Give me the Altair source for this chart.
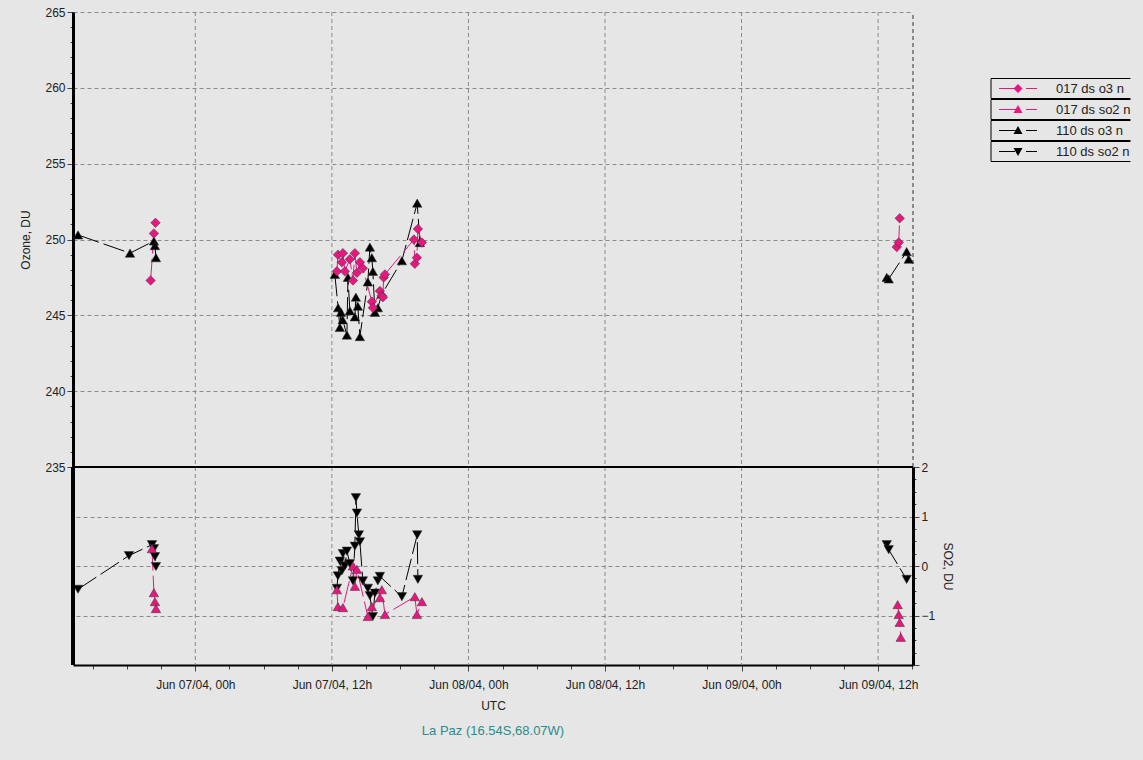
import altair as alt
import pandas as pd

# ---- data (hours since 2004-06-07 00:00 UTC, value) ----
o3_017_h = [-3.93, -3.64, -3.50,
            12.44, 12.53, 12.88, 12.97, 13.14, 13.58, 13.85, 14.02, 14.20, 14.46, 14.72,
            15.51, 15.60, 16.22, 16.39, 16.48, 16.55, 16.66, 19.21, 19.29, 19.47, 19.56, 19.91,
            61.64, 61.81, 61.90]
o3_017_v = [247.3, 250.4, 251.1,
            247.9, 249.0, 248.5, 249.1, 247.9, 248.7, 247.3, 249.1, 247.8, 248.5, 248.1,
            245.9, 245.5, 246.6, 246.3, 246.2, 247.5, 247.7, 250.0, 248.4, 248.8, 250.7, 249.8,
            249.5, 249.8, 251.4]

o3_110_h = [-10.31, -5.74, -3.64, -3.55, -3.46,
            12.26, 12.55, 12.70, 12.80, 12.95, 13.32, 13.41, 13.58, 14.02, 14.11, 14.28, 14.46,
            15.16, 15.34, 15.51, 15.60, 15.78, 16.04, 16.39, 18.15, 19.50, 19.73,
            60.76, 60.93, 62.51, 62.69]
o3_110_v = [250.3, 249.1, 249.9, 249.6, 248.8,
            247.7, 245.5, 244.2, 245.2, 244.7, 243.7, 247.5, 245.3, 244.9, 246.2, 245.6, 243.6,
            247.2, 249.5, 248.8, 247.9, 245.2, 245.5, 246.4, 248.6, 252.4, 249.8,
            247.5, 247.4, 249.2, 248.7]

so2_017_h = [-3.81, -3.64, -3.55, -3.46,
             12.44, 12.53, 12.97, 13.85, 14.02, 14.20, 15.16, 15.51, 16.22, 16.39, 16.66,
             19.29, 19.47, 19.91,
             61.72, 61.81, 61.90, 61.99]
so2_017_v = [0.35, -0.54, -0.72, -0.86,
             -0.48, -0.82, -0.84, 0.0, -0.41, -0.07, -1.02, -0.82, -0.64, -0.48, -0.98,
             -0.62, -0.98, -0.72,
             -0.78, -0.98, -1.14, -1.44]

so2_110_h = [-10.31, -5.83, -3.81, -3.64, -3.55, -3.46,
             12.44, 12.53, 12.70, 12.88, 12.97, 13.14, 13.32, 13.58, 13.85, 14.02, 14.11, 14.20,
             14.37, 14.46, 14.72, 15.16, 15.34, 15.60, 15.78, 16.04, 16.22, 18.15, 19.50, 19.56,
             60.76, 60.93, 62.51]
so2_110_v = [-0.47, 0.21, 0.43, 0.35, 0.19, -0.01,
             -0.45, -0.2, 0.1, -0.1, 0.25, 0.0, 0.3, 0.05, -0.3, 0.4, 1.38, 1.07,
             0.63, 0.49, -0.3, -0.45, -0.6, -1.02, -0.55, -0.3, -0.21, -0.62, 0.63, -0.27,
             0.43, 0.33, -0.27]

series_names = ["017 ds o3  n", "017 ds so2 n", "110 ds o3  n", "110 ds so2 n"]
PINK = "#e8177f"
series_colors = [PINK, PINK, "#000000", "#000000"]

# vertical grid (major x ticks, every 12 h)
grid_times = ["2004-06-07T00:00:00Z", "2004-06-07T12:00:00Z", "2004-06-08T00:00:00Z",
              "2004-06-08T12:00:00Z", "2004-06-09T00:00:00Z", "2004-06-09T12:00:00Z"]

BASE = pd.Timestamp("2004-06-07 00:00")


def frame(name, hours, values):
    rows = []
    seg = 0
    prev = None
    for h, v in sorted(zip(hours, values), key=lambda p: p[0]):
        if prev is not None and h - prev > 10:
            seg += 1
        prev = h
        ts = BASE + pd.Timedelta(hours=h)
        rows.append({"series": name, "t": ts.strftime("%Y-%m-%dT%H:%M:%SZ"),
                     "value": v, "seg": f"{name}-{seg}"})
    return pd.DataFrame(rows)


oz = pd.concat([frame(series_names[0], o3_017_h, o3_017_v),
                frame(series_names[2], o3_110_h, o3_110_v)])
so = pd.concat([frame(series_names[1], so2_017_h, so2_017_v),
                frame(series_names[3], so2_110_h, so2_110_v)])
grid_df = pd.DataFrame({"t": grid_times})

W, H = 840, 653
OZ_H = 455

t_start = alt.DateTime(year=2004, month=6, date=6, hours=13, minutes=15, utc=True)
t_end = alt.DateTime(year=2004, month=6, date=9, hours=15, minutes=4, utc=True)

x_ticks = [int((pd.Timestamp("2004-06-06 15:00", tz="UTC") + pd.Timedelta(hours=3 * i)).value // 10**6)
           for i in range(25)]

FONT = "Liberation Sans"
GRID = "#8a8a8a"
TXT = "#222222"

x_enc = alt.X(
    "t:T",
    scale=alt.Scale(type="utc", domain=[t_start, t_end]),
    axis=alt.Axis(
        values=x_ticks, tickCount=500,
        labelExpr="utchours(datum.value) % 12 === 0 ? utcFormat(datum.value, '%b %d/%y, %Hh') : ''",
        labelOverlap=False, title="UTC", grid=False,
        tickSize={"condition": {"test": "utchours(datum.value) % 12 !== 0", "value": 4}, "value": 6},
        domainWidth=2, domainColor="black", tickColor="#444",
        labelFontSize=12, titleFontSize=12, labelPadding=8, titlePadding=10,
        labelFont=FONT, titleFont=FONT, titleFontWeight="normal", labelColor=TXT, titleColor=TXT,
    ),
)

# legend symbols: line segment + marker + short dash (custom SVG paths, unit = sqrt(size)/2 px)
LINE = ("M-1.9,-0.05 L-0.2,-0.05 L-0.2,0.05 L-1.9,0.05 Z "
        "M0.8,-0.05 L1.9,-0.05 L1.9,0.05 L0.8,0.05 Z ")
legend_paths = [
    LINE + "M0,-0.45 L0.45,0 L0,0.45 L-0.45,0 Z",
    LINE + "M0,-0.45 L0.45,0.35 L-0.45,0.35 Z",
    LINE + "M0,-0.45 L0.45,0.35 L-0.45,0.35 Z",
    LINE + "M0,0.45 L0.45,-0.35 L-0.45,-0.35 Z",
]
ROW_BOX = "M-2.65,-1.0 L12.25,-1.0 L12.25,1.0 L-2.65,1.0 Z"

LX, LY = 917, 66

oz_y = alt.Y(
    "value:Q",
    scale=alt.Scale(domain=[235, 265], range=[OZ_H, 0], nice=False, zero=False),
    axis=alt.Axis(
        orient="left", values=list(range(235, 266)), tickCount=500, title="Ozone, DU",
        labelExpr="datum.value % 5 === 0 ? format(datum.value, 'd') : ''",
        grid=True, gridDash=[4, 3], gridColor=GRID,
        gridOpacity={"condition": {"test": "datum.value % 5 !== 0", "value": 0}, "value": 1},
        tickSize={"condition": {"test": "datum.value % 5 !== 0", "value": 3}, "value": 6},
        domainWidth=3, domainColor="black", tickColor="#444", labelOverlap=False,
        labelFontSize=12, titleFontSize=12, labelFont=FONT, titleFont=FONT,
        titleFontWeight="normal", titlePadding=12, labelColor=TXT, titleColor=TXT,
    ),
)

so_y = alt.Y(
    "value:Q",
    scale=alt.Scale(domain=[-2, 2], range=[H, OZ_H], nice=False, zero=False),
    axis=alt.Axis(
        orient="right", values=[-2 + 0.25 * i for i in range(17)], tickCount=500,
        title="SO2, DU",
        labelExpr="(datum.value % 1 === 0 && datum.value > -2) ? format(datum.value, 'd') : ''",
        grid=True, gridDash=[4, 3], gridColor=GRID,
        gridOpacity={"condition": {"test": "datum.value % 1 !== 0 || datum.value <= -2", "value": 0}, "value": 1},
        tickSize={"condition": {"test": "datum.value % 1 !== 0", "value": 3}, "value": 6},
        domainWidth=3, domainColor="black", tickColor="#444", labelOverlap=False,
        labelFontSize=12, titleFontSize=12, labelFont=FONT, titleFont=FONT,
        titleFontWeight="normal", titlePadding=6, labelColor=TXT, titleColor=TXT,
    ),
)

PT_SIZE = 90


def lines(df, y, name, color):
    return alt.Chart(df).transform_filter(alt.datum.series == name).mark_line(
        strokeWidth=1, strokeDash=[22, 5], color=color).encode(x=x_enc, y=y, detail="seg:N")


def points(df, y, name, shape, color):
    return alt.Chart(df).transform_filter(alt.datum.series == name).mark_point(
        filled=True, size=PT_SIZE, opacity=1, shape=shape, color=color,
        stroke="#333", strokeWidth=0.5).encode(x=x_enc, y=y)


vgrid = alt.Chart(grid_df).mark_rule(color=GRID, strokeDash=[4, 3], strokeWidth=1).encode(x=x_enc)
right_edge = alt.Chart(oz).mark_rule(color=GRID, strokeDash=[4, 3]).encode(
    x=alt.datum(t_end), y=alt.datum(235), y2=alt.datum(265))

# legend (drawn only from the scales; these layers carry no visible marks)
legend_layer = alt.Chart(oz).transform_filter("false").mark_point(filled=True, opacity=1).encode(
    color=alt.Color("series:N", scale=alt.Scale(domain=series_names, range=series_colors),
                    legend=alt.Legend(title=None, orient="none", legendX=LX, legendY=LY,
                                      labelExpr="''")),
    shape=alt.Shape("series:N", scale=alt.Scale(domain=series_names, range=legend_paths),
                    legend=alt.Legend(title=None, orient="none", legendX=LX, legendY=LY,
                                      labelExpr="''")),
)
# row boxes + labels (separate legend keyed by row number)
names_js = "[" + ", ".join(f"'{n}'" for n in series_names) + "]"
box_layer = alt.Chart(oz).transform_filter("false").mark_point(
    filled=False, color="black", strokeWidth=1, opacity=1, shape=ROW_BOX).encode(
    size=alt.Size("seg:O", scale=alt.Scale(domain=["1", "2", "3", "4"], range=[400, 400, 400, 400]),
                  legend=alt.Legend(title=None, orient="none", legendX=LX, legendY=LY,
                                    labelExpr=names_js + "[toNumber(datum.value) - 1] + "
                                    "'\u00a0\u00a0\u00a0\u00a0\u00a0\u00a0\u00a0\u00a0\u00a0\u00a0\u00a0\u00a0'",
                                    symbolType=ROW_BOX,
                                    symbolStrokeColor="black", symbolStrokeWidth=1,
                                    symbolFillColor="transparent")),
)

sep = alt.Chart(so).mark_rule(color="black", strokeWidth=2).encode(y=alt.datum(2))
left_low = alt.Chart(so).mark_rule(color="black", strokeWidth=3).encode(
    x=alt.datum(t_start), y=alt.datum(2), y2=alt.datum(-2))

oz_layer = alt.layer(
    vgrid,
    lines(oz, oz_y, series_names[2], "black"),
    lines(oz, oz_y, series_names[0], PINK),
    right_edge,
    points(oz, oz_y, series_names[2], "triangle-up", "black"),
    points(oz, oz_y, series_names[0], "diamond", PINK),
    legend_layer, box_layer,
)
so_layer = alt.layer(
    lines(so, so_y, series_names[3], "black"),
    lines(so, so_y, series_names[1], PINK),
    points(so, so_y, series_names[3], "triangle-down", "black"),
    points(so, so_y, series_names[1], "triangle-up", PINK),
    sep, left_low,
)

chart = alt.layer(oz_layer, so_layer).resolve_scale(y="independent").properties(
    width=W, height=H,
    background="#e6e6e6",
    padding={"left": 73, "top": 12, "right": 230, "bottom": 95},
    autosize=alt.AutoSizeParams(type="none"),
    title=alt.TitleParams("La Paz (16.54S,68.07W)", orient="bottom", anchor="middle",
                          color="#2a8c8c", font=FONT, fontSize=13, fontWeight="normal",
                          offset=14),
).configure_view(stroke=None).configure_legend(
    padding=0, labelFont=FONT, labelFontSize=13, labelColor=TXT, symbolSize=400,
    symbolOffset=17, labelOffset=28, clipHeight=21, rowPadding=0,
)

chart.save("out.html", embed_options={"renderer": "svg", "actions": False})
